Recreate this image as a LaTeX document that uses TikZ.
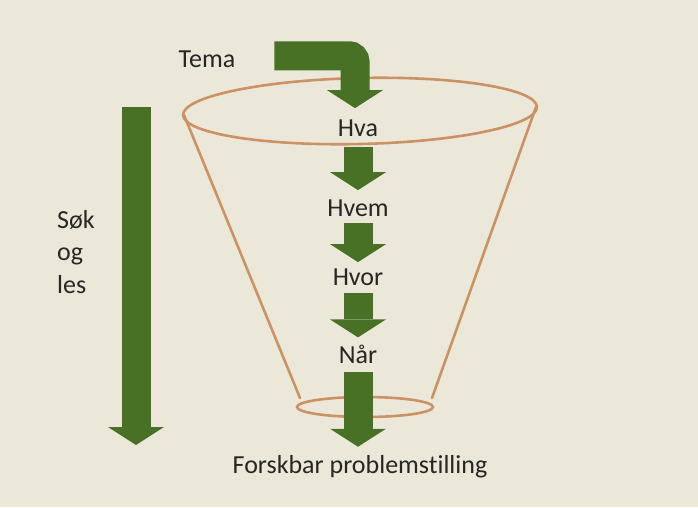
\documentclass[tikz,border=0pt]{standalone}
\usepackage{fontspec}
\setmainfont{Carlito}[Ligatures=NoCommon]
\usetikzlibrary{arrows.meta}
\definecolor{bakgrunn}{RGB}{235,232,218}
\definecolor{pilgronn}{RGB}{72,113,38}
\definecolor{trakt}{RGB}{204,146,100}
\definecolor{tekst}{RGB}{38,38,36}

\begin{document}
\begin{tikzpicture}[x=1pt,y=-1pt,
  lbl/.style={inner sep=0pt,anchor=base,text=tekst,font=\fontsize{26}{31}\selectfont},
  flow/.style={draw=pilgronn,line width=29pt,-{Triangle[width=56pt,length=18pt,line width=0pt]}},
  traktlinje/.style={draw=trakt,line width=2.6pt,line cap=round}]
  \fill[bakgrunn] (0,0) rectangle (698,507);
  \useasboundingbox (0,0) rectangle (698,507);
  % trakten
  \draw[traktlinje,rotate around={1.3:(360,111)}] (360,111) ellipse [x radius=177pt, y radius=33pt];
  \draw[traktlinje] (184,115) -- (300,398);
  \draw[traktlinje] (536,107) -- (432,398);
  \draw[traktlinje] (365,407) ellipse [x radius=68pt, y radius=10pt];
  % tekster
  \node[lbl] (tema) at (207,67) {Tema};
  \node[lbl] (hva) at (358,136) {Hva};
  \node[lbl] (hvem) at (358,216) {Hvem};
  \node[lbl] (hvor) at (358,285) {Hvor};
  \node[lbl] (naar) at (358,363) {Når};
  \node[lbl] (forsk) at (360,473) {Forskbar problemstilling};
  \node[lbl,anchor=north west,align=left,font=\fontsize{26}{32.5}\selectfont] (sok) at (57,210) {Søk\\og\\les};
  % piler
  \draw[flow,rounded corners=6pt,shorten <=39pt,shorten >=11pt] ([yshift=3pt]tema.east) -| ([xshift=-3pt]hva.north);
  \draw[flow,shorten <=11pt,shorten >=9pt] (hva) -- (hvem);
  \draw[flow,shorten <=7pt,shorten >=6pt] (hvem) -- (hvor);
  \draw[flow,shorten <=8pt,shorten >=7pt] (hvor) -- (naar);
  \draw[flow,shorten <=9pt,shorten >=8pt] (naar) -- (naar |- forsk.north);
  \coordinate (sok start) at (136,107);
  \coordinate (sok slutt) at (136,445);
  \draw[flow] (sok start) -- (sok slutt);
\end{tikzpicture}
\end{document}
